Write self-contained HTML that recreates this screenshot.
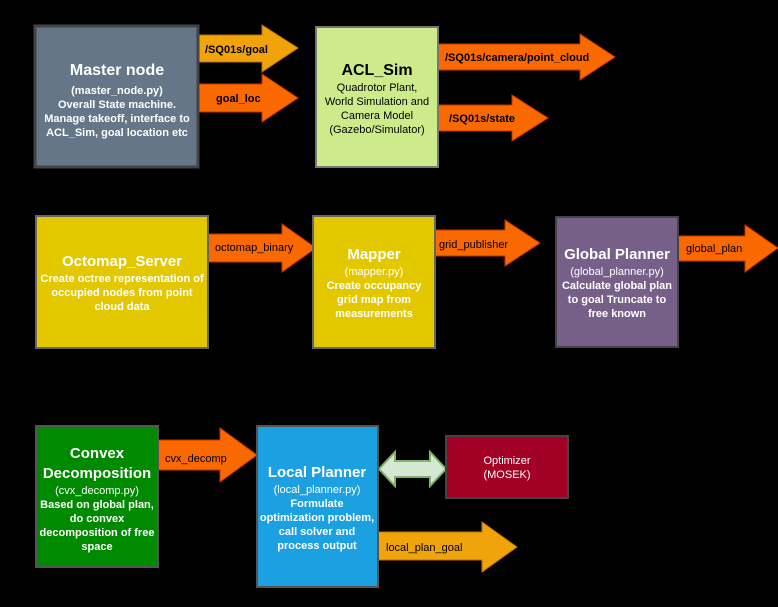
<!DOCTYPE html>
<html><head><meta charset="utf-8"><style>
body{margin:0;background:#000;}
svg{display:block;font-family:"Liberation Sans",Arial,sans-serif;}
</style></head><body>
<svg width="778" height="607" viewBox="0 0 778 607">
<rect width="778" height="607" fill="#000"/>
<!-- Arrows -->
<g><polygon points="198,35 262,35 262,25 298,48 262,72 262,62 198,62" fill="#f0a30a" stroke="#bd7000"/><text x="205" y="53" font-size="11" font-weight="bold" fill="#000">/SQ01s/goal</text></g>
<g><polygon points="198,84 262,84 262,74 298,98 262,122 262,112 198,112" fill="#fa6800" stroke="#c73500"/><text x="216" y="102" font-size="11" font-weight="bold" fill="#000">goal_loc</text></g>
<g><polygon points="437,44 580,44 580,34 615,57 580,80 580,70 437,70" fill="#fa6800" stroke="#c73500"/><text x="445" y="61" font-size="11" font-weight="bold" fill="#000">/SQ01s/camera/point_cloud</text></g>
<g><polygon points="437,105 512,105 512,95 548,118 512,141 512,131 437,131" fill="#fa6800" stroke="#c73500"/><text x="449" y="122" font-size="11" font-weight="bold" fill="#000">/SQ01s/state</text></g>
<g><polygon points="207,234 282,234 282,224 316,248 282,272 282,262 207,262" fill="#fa6800" stroke="#c73500"/><text x="215" y="251" font-size="11" fill="#000">octomap_binary</text></g>
<g><polygon points="435,230 505,230 505,220 540,243 505,266 505,256 435,256" fill="#fa6800" stroke="#c73500"/><text x="439" y="248" font-size="11" fill="#000">grid_publisher</text></g>
<g><polygon points="678,236 745,236 745,225 778,248 745,272 745,261 678,261" fill="#fa6800" stroke="#c73500"/><text x="686" y="252" font-size="11" fill="#000">global_plan</text></g>
<g><polygon points="157,440 220,440 220,428 257,455 220,482 220,470 157,470" fill="#fa6800" stroke="#c73500"/><text x="165" y="462" font-size="11" fill="#000">cvx_decomp</text></g>
<g><polygon points="377,532 482,532 482,522 517,547 482,572 482,560 377,560" fill="#f0a30a" stroke="#bd7000"/><text x="386" y="551" font-size="11" fill="#000">local_plan_goal</text></g>
<g><polygon points="379,469 395,452 395,461 430,461 430,452 446,469 430,486 430,477 395,477 395,486" fill="#d5e8d4" stroke="#82b366" stroke-width="2"/></g>
<!-- Boxes -->
<g><rect x="35" y="26" width="163" height="141" fill="#647687" stroke="#444" stroke-width="3"/>
<text text-anchor="middle" fill="#fff" font-weight="bold"><tspan x="117" y="75" font-size="16">Master node</tspan><tspan x="117" y="94" font-size="11">(master_node.py)</tspan><tspan x="117" y="108" font-size="11">Overall State machine.</tspan><tspan x="117" y="122" font-size="11">Manage takeoff, interface to</tspan><tspan x="117" y="136" font-size="11">ACL_Sim, goal location etc</tspan></text></g>
<g><rect x="316" y="27" width="122" height="140" fill="#cdeb8b" stroke="#777" stroke-width="2"/>
<text text-anchor="middle" fill="#000"><tspan x="377" y="75" font-size="16" font-weight="bold">ACL_Sim</tspan><tspan x="377" y="91" font-size="11">Quadrotor Plant,</tspan><tspan x="377" y="105" font-size="11">World Simulation and</tspan><tspan x="377" y="119" font-size="11">Camera Model</tspan><tspan x="377" y="133" font-size="11">(Gazebo/Simulator)</tspan></text></g>
<g><rect x="36" y="216" width="172" height="132" fill="#e3c800" stroke="#666" stroke-width="2"/>
<text text-anchor="middle" fill="#fff" font-weight="bold"><tspan x="122" y="266" font-size="15">Octomap_Server</tspan><tspan x="122" y="282" font-size="11">Create octree representation of</tspan><tspan x="122" y="296" font-size="11">occupied nodes from point</tspan><tspan x="122" y="310" font-size="11">cloud data</tspan></text></g>
<g><rect x="313" y="216" width="122" height="132" fill="#e3c800" stroke="#666" stroke-width="2"/>
<text text-anchor="middle" fill="#fff" font-weight="bold"><tspan x="374" y="259" font-size="15">Mapper</tspan><tspan x="374" y="275" font-size="11" font-weight="normal">(mapper.py)</tspan><tspan x="374" y="289" font-size="11">Create occupancy</tspan><tspan x="374" y="303" font-size="11">grid map from</tspan><tspan x="374" y="317" font-size="11">measurements</tspan></text></g>
<g><rect x="556" y="217" width="122" height="130" fill="#76608a" stroke="#444" stroke-width="2"/>
<text text-anchor="middle" fill="#fff" font-weight="bold"><tspan x="617" y="259" font-size="15">Global Planner</tspan><tspan x="617" y="275" font-size="11" font-weight="normal">(global_planner.py)</tspan><tspan x="617" y="289" font-size="11">Calculate global plan</tspan><tspan x="617" y="303" font-size="11">to goal Truncate to</tspan><tspan x="617" y="317" font-size="11">free known</tspan></text></g>
<g><rect x="36" y="426" width="122" height="141" fill="#008a00" stroke="#555" stroke-width="2"/>
<text text-anchor="middle" fill="#fff" font-weight="bold"><tspan x="97" y="458" font-size="15">Convex</tspan><tspan x="97" y="478" font-size="15">Decomposition</tspan><tspan x="97" y="494" font-size="11" font-weight="normal">(cvx_decomp.py)</tspan><tspan x="97" y="508" font-size="11">Based on global plan,</tspan><tspan x="97" y="522" font-size="11">do convex</tspan><tspan x="97" y="536" font-size="11">decomposition of free</tspan><tspan x="97" y="550" font-size="11">space</tspan></text></g>
<g><rect x="257" y="426" width="121" height="161" fill="#1ba1e2" stroke="#555" stroke-width="2"/>
<text text-anchor="middle" fill="#fff" font-weight="bold"><tspan x="317" y="477" font-size="15">Local Planner</tspan><tspan x="317" y="493" font-size="11" font-weight="normal">(local_planner.py)</tspan><tspan x="317" y="507" font-size="11">Formulate</tspan><tspan x="317" y="521" font-size="11">optimization problem,</tspan><tspan x="317" y="535" font-size="11">call solver and</tspan><tspan x="317" y="549" font-size="11">process output</tspan></text></g>
<g><rect x="446" y="436" width="122" height="62" fill="#a20025" stroke="#444" stroke-width="2"/>
<text text-anchor="middle" fill="#fff"><tspan x="507" y="464" font-size="11">Optimizer</tspan><tspan x="507" y="478" font-size="11">(MOSEK)</tspan></text></g>
</svg>
</body></html>
